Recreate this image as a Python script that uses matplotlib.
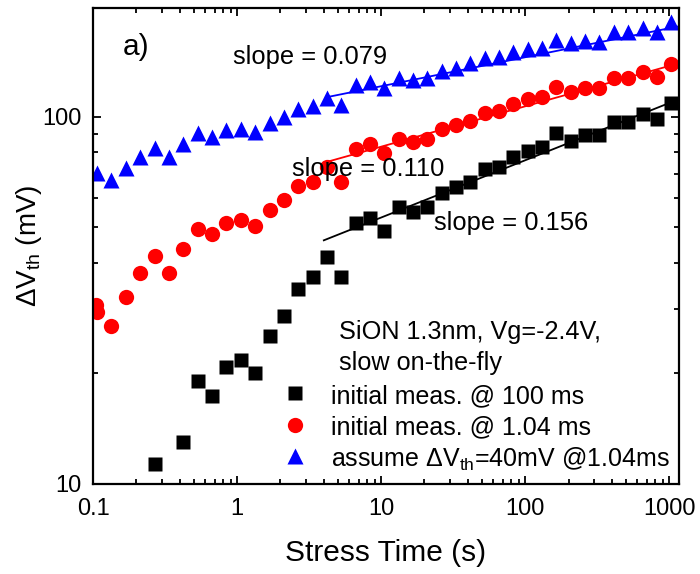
import numpy as np
import matplotlib.pyplot as plt
from matplotlib.ticker import LogLocator, NullFormatter

plt.rcParams['font.family'] = ['Liberation Sans', 'DejaVu Sans']
plt.rcParams['mathtext.fontset'] = 'custom'
plt.rcParams['mathtext.rm'] = 'Liberation Sans'
plt.rcParams['mathtext.it'] = 'Liberation Sans:italic'

# data
t_all = [0.107, 0.134, 0.169, 0.212, 0.267, 0.336, 0.423, 0.532, 0.669, 0.842,
         1.06, 1.33, 1.68, 2.11, 2.65, 3.34, 4.20, 5.28, 6.65, 8.36,
         10.5, 13.2, 16.6, 20.9, 26.3, 33.1, 41.6, 52.3, 65.8, 82.8,
         104, 131, 165, 207, 261, 328, 413, 519, 653, 822, 1034]

dv_blue = [70.4, 67.3, 72.6, 77.8, 82.3, 77.8, 84.4, 90.4, 88.2, 92.2,
           92.8, 91.0, 96.3, 100, 105.1, 107.1, 112.7, 107.8, 122.3, 124.6,
           120, 127.8, 126.2, 127.8, 133.5, 136, 140.3, 144.8, 145.7, 150.4,
           153.2, 154.2, 162.1, 159.1, 161.1, 160.1, 170.4, 170.4, 174.8, 170.4, 181.5]

t_red = [0.104] + t_all
dv_red = [30.7, 29.4, 26.9, 32.3, 37.6, 41.8, 37.6, 43.7, 49.5, 48.0, 51.4,
          52.4, 50.5, 55.8, 59.5, 64.9, 66.5, 73.1, 66.5, 81.8, 84.4,
          79.8, 87.1, 85.5, 87.1, 92.8, 95.1, 97.5, 102.5, 103.8, 108.5,
          111.9, 113.4, 120.7, 117.0, 120, 120, 127.8, 127.8, 132.7, 128.5, 139.4]

t_black = [t_all[4]] + t_all[6:]
dv_black = [11.3, 13.0, 19.1, 17.4, 20.8, 21.8, 20.1, 25.3, 28.7, 34.0,
            36.6, 41.6, 36.6, 51.4, 53.1, 48.9, 56.9, 55.1, 56.9, 62.1,
            64.5, 66.5, 72.2, 73.1, 77.8, 80.8, 82.8, 90.4, 86.0, 89.3,
            89.3, 96.9, 96.9, 101.9, 98.8, 109.2]

# power law fits: start time, value at start, slope
fit_black = (4.0, 46.1, 0.156)
fit_red = (4.0, 75.0, 0.110)
fit_blue = (4.3, 113.4, 0.079)

labels = ["initial meas. @ 100 ms", "initial meas. @ 1.04 ms",
          "assume $\\Delta$V$_\\mathrm{th}$=40mV @1.04ms"]

xmax = 1170

fig = plt.figure(figsize=(7, 5.74), dpi=100)
ax = fig.add_axes([0.133, 0.157, 0.837, 0.829])

ax.plot(t_black, dv_black, 's', color='black', ms=10, mec='none', label=labels[0])
ax.plot(t_red, dv_red, 'o', color='red', ms=11, mec='none', label=labels[1])
ax.plot(t_all, dv_blue, '^', color='blue', ms=11.5, mec='none', label=labels[2])

for (t0, y0, s), c in [(fit_black, 'black'), (fit_red, 'red'), (fit_blue, 'blue')]:
    tt = np.array([t0, xmax])
    ax.plot(tt, y0 * (tt / t0) ** s, '-', color=c, lw=1.3)

ax.set_xscale('log')
ax.set_yscale('log')
ax.set_xlim(0.1, xmax)
ax.set_ylim(10, 198)

ax.set_xticks([0.1, 1, 10, 100, 1000], labels=['0.1', '1', '10', '100', '1000'])
ax.set_yticks([10, 100], labels=['10', '100'])
ax.xaxis.set_minor_locator(LogLocator(base=10, subs=np.arange(2, 10)))
ax.yaxis.set_minor_locator(LogLocator(base=10, subs=np.arange(2, 10)))
ax.xaxis.set_minor_formatter(NullFormatter())
ax.yaxis.set_minor_formatter(NullFormatter())
ax.tick_params(which='both', direction='in', top=True, right=True, width=1.3)
ax.tick_params(which='major', length=6, labelsize=17)
ax.tick_params(axis='x', which='major', pad=10)
ax.tick_params(axis='y', which='major', pad=8)
ax.tick_params(which='minor', length=3.5)
for sp in ax.spines.values():
    sp.set_linewidth(1.6)

ax.set_xlabel('Stress Time (s)', fontsize=21.5, labelpad=14)
ax.set_ylabel('$\\Delta$V$_\\mathrm{th}$ (mV)', fontsize=20, labelpad=-1)

ax.text(0.94, 145.7, 'slope = 0.079', fontsize=18.4, va='center')
ax.text(2.41, 72.1, 'slope = 0.110', fontsize=18.4, va='center')
ax.text(23.3, 51.4, 'slope = 0.156', fontsize=18.4, va='center')
ax.text(0.051, 0.918, 'a)', fontsize=21.5, va='center', transform=ax.transAxes)

ax.text(0.42, 0.319, 'SiON 1.3nm, Vg=-2.4V,', fontsize=18.2, va='center', transform=ax.transAxes)
ax.text(0.42, 0.254, 'slow on-the-fly', fontsize=18.2, va='center', transform=ax.transAxes)
ax.legend(loc='upper left', bbox_to_anchor=(0.3225, 0.212), frameon=False, fontsize=18,
          handlelength=1.0, handleheight=1.1, handletextpad=0.97, labelspacing=0.23,
          borderpad=0, borderaxespad=0, numpoints=1)

fig.savefig('out.png', dpi=100)
